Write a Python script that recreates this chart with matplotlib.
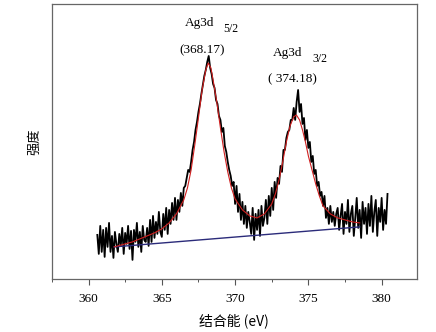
import numpy as np
import matplotlib.pyplot as plt

# raw spectrum, 0.1 eV steps from 360.6 to 380.4 eV
e_start, e_step = 360.6, 0.1
counts = [
    45, 26, 54, 28,
    50, 23, 52, 33, 57, 28, 44, 22, 48, 36,
    28, 46, 34, 52, 26, 47, 36, 54, 31, 49,
    20, 50, 38, 57, 33, 48, 28, 54, 40, 38,
    52, 34, 60, 38, 64, 42, 58, 46, 68, 48,
    43, 66, 50, 72, 46, 70, 56, 77, 60, 82,
    60, 80, 68, 87, 74, 92, 94, 102, 110, 108,
    118, 130, 138, 150, 158, 168, 176, 186, 195, 204,
    210, 218, 224, 212, 206, 196, 192, 180, 176, 164,
    160, 148, 152, 134, 128, 118, 110, 104, 94, 98,
    76, 94, 68, 86, 60, 78, 56, 74, 52, 68,
    58, 46, 72, 40, 66, 50, 70, 44, 74, 54,
    62, 80, 56, 84, 64, 92, 70, 98, 82, 102,
    96, 114, 108, 130, 130, 142, 148, 150, 160, 160,
    172, 160, 178, 190, 168, 176, 156, 162, 140, 150,
    132, 138, 118, 124, 106, 110, 94, 98, 84, 88,
    74, 84, 62, 72, 56, 74, 58, 68, 54, 66,
    72, 50, 64, 76, 46, 68, 56, 80, 48, 66,
    74, 44, 62, 82, 52, 70, 42, 78, 56, 72,
    46, 76, 54, 84, 48, 68, 80, 44, 72, 58,
    82, 50, 70, 56, 86,
]
energy = np.round(e_start + e_step * np.arange(len(counts)), 2)

# fitted envelope
fit_e = [361.75, 362.5, 363.0, 363.5, 364.0, 364.5, 365.0, 365.5, 366.0, 366.5,
         366.75, 367.0, 367.25, 367.5, 367.75, 368.0, 368.17, 368.35, 368.5, 368.75,
         369.0, 369.25, 369.5, 369.75, 370.0, 370.5, 371.0, 371.5, 372.0, 372.5,
         372.75, 373.0, 373.25, 373.5, 373.75, 374.0, 374.18, 374.4, 374.6, 374.8,
         375.0, 375.25, 375.5, 375.75, 376.0, 376.5, 377.0, 377.5, 378.0, 378.5]
fit_i = [33, 36, 38, 41, 44, 47, 51, 57, 66, 80,
         92, 110, 135, 162, 190, 210, 217, 212, 200, 178,
         152, 128, 108, 92, 81, 70, 64, 62, 66, 76,
         86, 100, 118, 138, 154, 163, 165, 160, 150, 138,
         124, 110, 96, 84, 74, 66, 62, 60, 58, 57]

# linear background
bg_e = [361.75, 378.5]
bg_i = [33, 53]

serif = 'Liberation Serif'
cjk = ['Noto Sans CJK SC', 'DejaVu Sans']

fig = plt.figure(figsize=(4.36, 3.32), dpi=100)
ax = fig.add_axes([0.119, 0.160, 0.837, 0.828])

ax.plot(energy, counts, color='black', lw=1.3)
ax.plot(bg_e, bg_i, color='#2b2b7a', lw=1.0)
ax.plot(fit_e, fit_i, color='#d02020', lw=0.8)

ax.set_xlim(357.55, 382.4)
ax.set_ylim(1, 276)
ax.set_xticks([360, 365, 370, 375, 380])
ax.set_xticks(np.arange(357.5, 382.5, 2.5), minor=True)
ax.set_yticks([])
ax.tick_params(axis='x', which='major', direction='out', length=4, width=0.8,
               color='#555555', labelsize=9.5, pad=6)
ax.tick_params(axis='x', which='minor', direction='out', length=2.5, width=0.7,
               color='#555555')
for lab in ax.get_xticklabels():
    lab.set_fontfamily(serif)
for sp in ax.spines.values():
    sp.set_color('#666666')
    sp.set_linewidth(0.9)

ax.set_xlabel('结合能 (eV)', family=cjk, fontsize=10, labelpad=6)
ax.set_ylabel('强度', family=cjk, fontsize=9.5, labelpad=8)

ax.text(366.6, 257, 'Ag3d', family=serif, fontsize=9.5, ha='left', va='center')
ax.text(369.2, 251, '5/2', family=serif, fontsize=8.5, ha='left', va='center')
ax.text(367.76, 230, '(368.17)', family=serif, fontsize=9.5, ha='center', va='center')
ax.text(372.6, 227, 'Ag3d', family=serif, fontsize=9.5, ha='left', va='center')
ax.text(375.25, 221, '3/2', family=serif, fontsize=8.5, ha='left', va='center')
ax.text(373.88, 201, '( 374.18)', family=serif, fontsize=9.5, ha='center', va='center')

fig.savefig('out.png', dpi=100)
